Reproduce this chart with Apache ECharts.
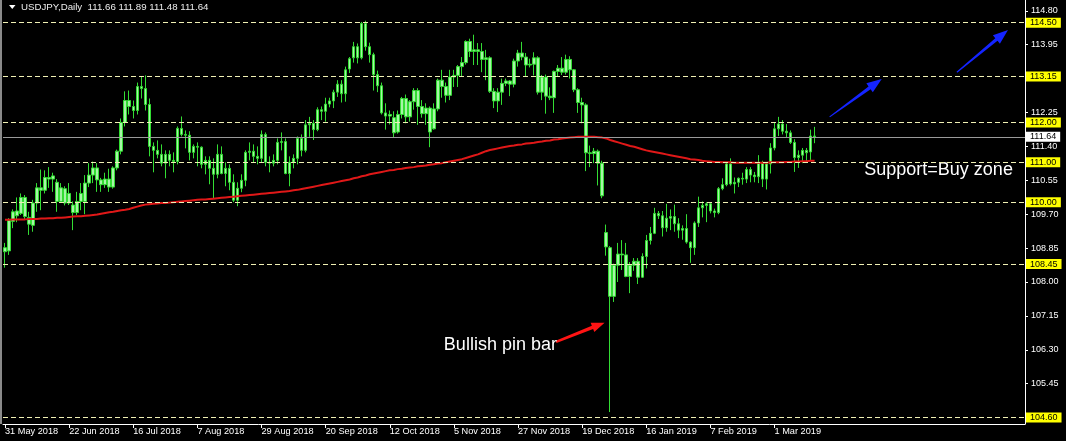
<!DOCTYPE html>
<html><head><meta charset="utf-8">
<script src="https://cdn.jsdelivr.net/npm/echarts@6/dist/echarts.min.js"></script>
<style>html,body{margin:0;padding:0;background:#000;}#c{width:1066px;height:441px;}</style>
</head><body><div id="c"></div>
<script>
// ---------- DATA ----------
const symbolName = 'USDJPY,Daily';
const tickEvery = 16; // a date label every 16 bars
const tickLabels = ['31 May 2018','22 Jun 2018','16 Jul 2018','7 Aug 2018','29 Aug 2018','20 Sep 2018','12 Oct 2018','5 Nov 2018','27 Nov 2018','19 Dec 2018','16 Jan 2019','7 Feb 2019','1 Mar 2019'];
const opens = [
108.76,108.78,109.52,109.78,109.72,110.12,109.62,109.42,109.98,110.36,
110.30,110.62,110.58,110.50,110.02,110.34,109.98,109.93,109.74,110.02,
110.02,110.48,110.68,110.86,110.56,110.44,110.58,110.38,110.86,111.28,
112.00,112.55,112.40,112.30,112.90,112.85,112.45,111.40,111.30,111.20,
110.98,111.20,111.05,111.02,111.85,111.70,111.68,111.25,111.40,111.38,
110.95,111.05,110.85,110.70,111.20,110.72,110.85,110.50,110.05,110.35,
110.55,111.25,111.28,111.15,111.10,111.70,111.00,110.98,111.05,111.50,
111.52,110.72,111.00,111.10,111.60,111.30,111.94,111.98,111.82,112.32,
112.28,112.46,112.54,112.76,112.96,112.72,113.34,113.62,113.90,113.62,
114.48,113.90,113.70,113.20,112.92,112.24,112.16,112.12,111.76,112.20,
112.60,112.14,112.52,112.80,112.40,112.22,112.36,111.84,112.34,113.06,
112.90,112.68,113.14,113.18,113.40,113.50,114.03,113.78,113.82,113.78,
113.58,113.62,112.78,112.54,112.76,112.98,113.04,112.96,113.54,113.74,
113.64,113.44,113.46,113.62,112.76,113.14,112.66,112.62,113.28,113.36,
113.26,113.58,113.32,112.82,112.50,112.44,111.24,111.22,111.28,110.98,
109.24,108.86,107.64,108.42,108.70,108.68,108.14,108.42,108.52,108.12,
108.64,109.04,109.22,109.72,109.66,109.36,109.60,109.64,109.46,109.30,
109.34,109.00,108.86,109.48,109.86,109.92,109.96,109.78,109.74,110.34,
110.44,110.96,110.46,110.50,110.60,110.58,110.82,110.68,110.64,110.98,
110.58,110.96,111.36,111.84,111.96,111.78,111.74,111.50,111.12,111.18,
111.30,111.26,111.66];
const highs = [
108.98,109.60,109.82,110.12,110.22,110.18,109.76,110.06,110.48,110.82,
110.80,110.88,110.74,110.58,110.48,110.40,110.48,110.02,110.26,110.48,
110.68,110.98,111.02,110.98,110.61,110.74,110.84,110.90,111.32,112.10,
112.78,112.80,112.55,113.00,113.14,113.18,112.60,111.50,111.55,111.45,
111.30,111.30,111.25,111.90,112.15,111.80,111.78,111.45,111.50,111.40,
111.15,111.15,111.10,111.45,111.40,111.00,110.95,110.70,110.50,110.70,
111.30,111.50,111.45,111.40,111.80,111.75,111.15,111.20,111.60,111.75,
111.60,111.15,111.20,111.65,111.70,112.06,112.14,112.06,112.38,112.40,
112.62,112.62,112.82,113.06,113.06,113.40,113.64,114.02,113.98,114.52,
114.55,114.00,113.75,113.30,113.00,112.48,112.30,112.28,112.30,112.64,
112.70,112.56,112.86,112.86,112.56,112.48,112.40,112.48,113.10,113.32,
113.00,113.32,113.32,113.44,113.64,114.06,114.10,114.20,113.99,113.99,
113.82,113.66,112.86,112.86,113.10,113.10,113.06,113.60,113.82,114.02,
113.74,113.60,113.76,113.66,113.19,113.20,112.88,113.30,113.44,113.64,
113.70,113.66,113.34,112.86,112.62,112.48,111.42,111.36,111.32,111.04,
109.44,108.90,108.46,108.98,109.05,108.98,108.50,108.60,108.60,108.72,
109.18,109.38,109.86,109.78,109.78,109.96,109.82,109.94,109.60,109.42,
109.70,109.02,109.52,110.14,110.02,110.00,110.00,109.84,110.38,110.60,
111.00,111.10,110.62,110.62,110.74,110.88,110.88,110.76,111.18,111.04,
111.00,111.48,112.00,112.14,112.06,111.96,111.80,111.58,111.30,111.36,
111.36,111.82,111.89];
const lows = [
108.36,108.68,109.35,109.50,109.68,109.58,109.18,109.26,109.76,109.80,
110.22,110.36,110.26,109.76,109.98,109.92,109.93,109.30,109.68,109.80,
109.70,110.38,110.48,110.26,110.26,110.36,110.26,110.34,110.80,111.20,
111.90,112.20,112.10,112.20,112.60,112.30,111.15,110.75,111.10,110.90,
110.60,110.90,110.75,110.95,111.65,111.35,111.05,111.10,110.90,110.85,
110.70,110.45,110.10,110.60,110.70,110.40,110.30,110.00,109.90,110.25,
110.40,111.05,111.00,110.95,111.00,110.90,110.75,110.90,110.95,111.30,
110.70,110.40,110.85,110.95,111.15,111.25,111.64,111.56,111.78,112.06,
112.02,112.38,112.36,112.64,112.50,112.52,113.24,113.50,113.48,113.58,
113.80,113.50,112.80,112.76,112.20,111.82,111.95,111.62,111.72,112.10,
111.98,112.02,112.32,111.94,112.12,111.94,111.38,111.82,112.28,112.62,
112.50,112.56,112.89,112.89,113.14,113.45,113.64,113.44,113.44,113.26,
113.06,112.74,112.36,112.26,112.44,112.91,112.66,112.88,113.40,113.56,
113.14,113.38,113.18,112.70,112.56,112.22,112.56,112.24,113.14,113.19,
113.20,113.10,112.76,112.24,111.98,110.78,110.88,110.98,110.42,110.10,
108.66,104.74,107.50,108.00,108.30,108.12,107.72,108.28,107.95,108.10,
108.34,108.94,109.20,109.58,109.14,109.26,109.30,109.26,109.10,109.06,
108.96,108.48,108.68,109.38,109.62,109.50,109.72,109.62,109.70,110.30,
110.40,110.42,110.22,110.38,110.44,110.48,110.50,110.50,110.48,110.38,
110.32,110.72,111.30,111.66,111.70,111.62,111.46,110.76,110.86,110.98,
111.00,111.06,111.48];
const closes = [
108.86,109.54,109.76,109.66,110.12,109.64,109.45,109.98,110.36,110.30,
110.62,110.58,110.66,110.02,110.36,109.98,110.22,109.74,110.02,110.22,
110.48,110.68,110.86,110.56,110.44,110.58,110.38,110.86,111.28,112.00,
112.55,112.40,112.30,112.90,112.85,112.45,111.40,111.30,111.20,110.98,
111.20,111.05,111.02,111.85,111.70,111.68,111.25,111.40,111.38,110.95,
111.05,110.85,110.70,111.20,110.72,110.85,110.50,110.05,110.35,110.55,
111.25,111.28,111.15,111.10,111.70,111.00,110.98,111.05,111.50,111.52,
110.72,111.00,111.10,111.60,111.30,111.94,111.98,111.82,112.32,112.28,
112.46,112.54,112.76,112.96,112.72,113.32,113.60,113.90,113.62,114.48,
113.90,113.70,113.20,112.92,112.24,112.16,112.20,111.74,112.20,112.60,
112.14,112.52,112.80,112.40,112.22,112.36,111.76,112.34,113.06,112.90,
112.68,113.14,113.18,113.40,113.50,114.03,113.78,113.82,113.78,113.58,
113.62,112.78,112.54,112.76,112.98,113.04,112.96,113.54,113.74,113.64,
113.44,113.46,113.62,112.76,113.14,112.66,112.62,113.28,113.36,113.26,
113.58,113.32,112.82,112.50,112.44,111.24,111.22,111.28,110.98,110.16,
108.88,107.64,108.42,108.70,108.68,108.14,108.42,108.52,108.12,108.64,
109.04,109.22,109.72,109.66,109.36,109.60,109.64,109.46,109.30,109.34,
109.00,108.86,109.48,109.86,109.92,109.96,109.78,109.74,110.34,110.44,
110.96,110.46,110.50,110.60,110.58,110.82,110.68,110.64,110.98,110.58,
110.96,111.36,111.84,111.96,111.78,111.74,111.50,111.12,111.18,111.30,
111.24,111.66,111.64];
const ma200 = [
109.56,109.56,109.57,109.57,109.57,109.57,109.58,109.58,109.58,109.59,
109.59,109.60,109.60,109.61,109.61,109.62,109.63,109.64,109.65,109.65,
109.66,109.67,109.68,109.69,109.71,109.73,109.75,109.76,109.78,109.80,
109.81,109.83,109.86,109.89,109.92,109.94,109.95,109.96,109.97,109.98,
109.98,109.99,110.00,110.01,110.02,110.03,110.04,110.05,110.06,110.07,
110.07,110.08,110.09,110.10,110.11,110.12,110.13,110.14,110.15,110.16,
110.17,110.18,110.19,110.20,110.21,110.22,110.23,110.24,110.25,110.26,
110.27,110.28,110.30,110.31,110.33,110.35,110.37,110.39,110.41,110.43,
110.45,110.47,110.49,110.51,110.53,110.55,110.57,110.60,110.62,110.65,
110.67,110.70,110.72,110.74,110.76,110.78,110.80,110.81,110.83,110.84,
110.86,110.87,110.88,110.90,110.91,110.92,110.94,110.95,110.97,110.98,
111.00,111.02,111.04,111.06,111.08,111.11,111.14,111.17,111.20,111.24,
111.28,111.31,111.33,111.35,111.37,111.39,111.41,111.42,111.44,111.45,
111.47,111.48,111.49,111.51,111.52,111.54,111.55,111.57,111.58,111.60,
111.61,111.62,111.63,111.64,111.64,111.64,111.64,111.64,111.63,111.62,
111.60,111.56,111.53,111.50,111.47,111.44,111.41,111.39,111.36,111.33,
111.30,111.28,111.26,111.24,111.22,111.20,111.18,111.16,111.14,111.12,
111.10,111.08,111.07,111.06,111.04,111.03,111.02,111.01,111.01,111.00,
111.00,111.00,110.99,110.99,110.99,110.99,110.99,110.99,110.99,110.99,
110.99,111.00,111.00,111.00,111.00,111.01,111.01,111.02,111.02,111.03,
111.03,111.04,111.04];
const yTickValues = [114.80,113.95,113.10,112.25,111.40,110.55,109.70,108.85,108.00,107.15,106.30,105.45,104.60];
const levelLines = [114.50,113.15,112.00,111.00,110.00,108.45,104.60];
const lastPrice = 111.64;
// annotations in data coordinates [bar index, price]
const arrowFrom = [[137.5,106.50],[205.75,112.14],[237.5,113.26]];
const arrowTo   = [[149.6,106.98],[218.75,113.09],[250.25,114.32]];
const arrowColors = ['#ff1414','#1424ff','#1424ff'];
const noteTexts = ['Bullish pin bar','Support=Buy zone'];
const notePos = [[109.5,106.41],[214.4,110.80]];

// ---------- CHART ----------
const FONT = '"Liberation Sans", Arial, sans-serif';
const chart = echarts.init(document.getElementById('c'), null, {renderer:'canvas', width:1066, height:441});
const tickIdx = tickLabels.map((_, k) => k * tickEvery);
const candleData = opens.map((o, i) => [i, o, closes[i], lows[i], highs[i]]);
const maData = ma200.map((v, i) => [i, v]);
const yellowLabel = {show:true, position:'end', distance:1, formatter: p => Number(p.value).toFixed(2),
  backgroundColor:'#ffff00', color:'#000', fontSize:9, fontFamily:FONT, lineHeight:10, padding:[0,4,0,4]};

chart.setOption({
  backgroundColor:'#000',
  animation:false,
  grid:{left:3, right:41, top:0, bottom:17, containLabel:false, outerBoundsMode:'none'},
  xAxis:{
    type:'value', min:-0.5, max:254.5,
    axisLine:{show:true, onZero:false, lineStyle:{color:'#ffffff', width:1}},
    axisTick:{show:true, customValues:tickIdx, length:4, lineStyle:{color:'#ffffff'}},
    axisLabel:{show:true, customValues:tickIdx, formatter: v => tickLabels[Math.round(v / tickEvery)] || '',
      align:'left', margin:3, color:'#ffffff', fontSize:9.2, fontFamily:FONT},
    splitLine:{show:false}
  },
  yAxis:{
    type:'value', position:'right', min:104.44, max:115.07, scale:true,
    axisLine:{show:true, onZero:false, lineStyle:{color:'#ffffff', width:1}},
    axisTick:{show:true, customValues:yTickValues, length:3, lineStyle:{color:'#ffffff'}},
    axisLabel:{show:true, customValues:yTickValues, formatter: v => Number(v).toFixed(2),
      margin:6, color:'#ffffff', fontSize:9, fontFamily:FONT},
    splitLine:{show:false}
  },
  series:[
    {
      type:'candlestick', data:candleData, encode:{x:0, y:[1,2,3,4]}, barWidth:3, z:2, silent:true,
      itemStyle:{color:'#a6f5a6', color0:'#a6f5a6', borderColor:'#33dd33', borderColor0:'#33dd33', borderWidth:1},
      markLine:{
        silent:true, symbol:['none','none'], animation:false,
        data: levelLines.map(v => ({yAxis:v, lineStyle:{type:[5,3], color:'#f0f0b4', width:1}, label:yellowLabel}))
          .concat([{yAxis:lastPrice, lineStyle:{type:'solid', color:'#9a9a9a', width:1},
            label:Object.assign({}, yellowLabel, {backgroundColor:'#ffffff'})}])
      }
    },
    {
      type:'line', data:maData, symbol:'none', showSymbol:false, silent:true, z:3,
      lineStyle:{color:'#e01818', width:2}
    }
  ]
});

function arrowPoly(p0, p1, w0, w1, headLen, headHalf) {
  const dx = p1[0] - p0[0], dy = p1[1] - p0[1];
  const len = Math.hypot(dx, dy);
  const ux = dx / len, uy = dy / len, nx = -uy, ny = ux;
  const bx = p1[0] - ux * headLen, by = p1[1] - uy * headLen;
  return [
    [p0[0] + nx * w0 / 2, p0[1] + ny * w0 / 2],
    [bx + nx * w1 / 2, by + ny * w1 / 2],
    [bx + nx * headHalf, by + ny * headHalf],
    [p1[0], p1[1]],
    [bx - nx * headHalf, by - ny * headHalf],
    [bx - nx * w1 / 2, by - ny * w1 / 2],
    [p0[0] - nx * w0 / 2, p0[1] - ny * w0 / 2]
  ];
}

const graphics = [];
graphics.push({type:'rect', shape:{x:0, y:0, width:2, height:424}, style:{fill:'#8a8a8a'}, silent:true});
graphics.push({type:'polygon', shape:{points:[[9,5],[15.5,5],[12.25,9]]}, style:{fill:'#ffffff'}, silent:true});
const last = opens.length - 1;
graphics.push({type:'text', x:21, y:7, silent:true,
  style:{text: symbolName + '  ' + [opens[last], highs[last], lows[last], closes[last]].map(v => v.toFixed(2)).join(' '),
    fill:'#ececec', font:'9.7px ' + FONT, verticalAlign:'middle', align:'left'}});
arrowFrom.forEach((f, k) => {
  const p0 = chart.convertToPixel({gridIndex:0}, f);
  const p1 = chart.convertToPixel({gridIndex:0}, arrowTo[k]);
  const red = k === 0;
  graphics.push({type:'polygon', silent:true,
    shape:{points: arrowPoly(p0, p1, red ? 2.5 : 1.2, red ? 3.5 : 3.5, red ? 13 : 15, red ? 5 : 5.5)},
    style:{fill: arrowColors[k]}});
});
noteTexts.forEach((t, k) => {
  const p = chart.convertToPixel({gridIndex:0}, notePos[k]);
  graphics.push({type:'text', x:p[0], y:p[1], silent:true,
    style:{text:t, fill:'#ffffff', font:'18px ' + FONT, verticalAlign:'middle', align:'left'}});
});
chart.setOption({graphic: graphics});
</script>
</body></html>
